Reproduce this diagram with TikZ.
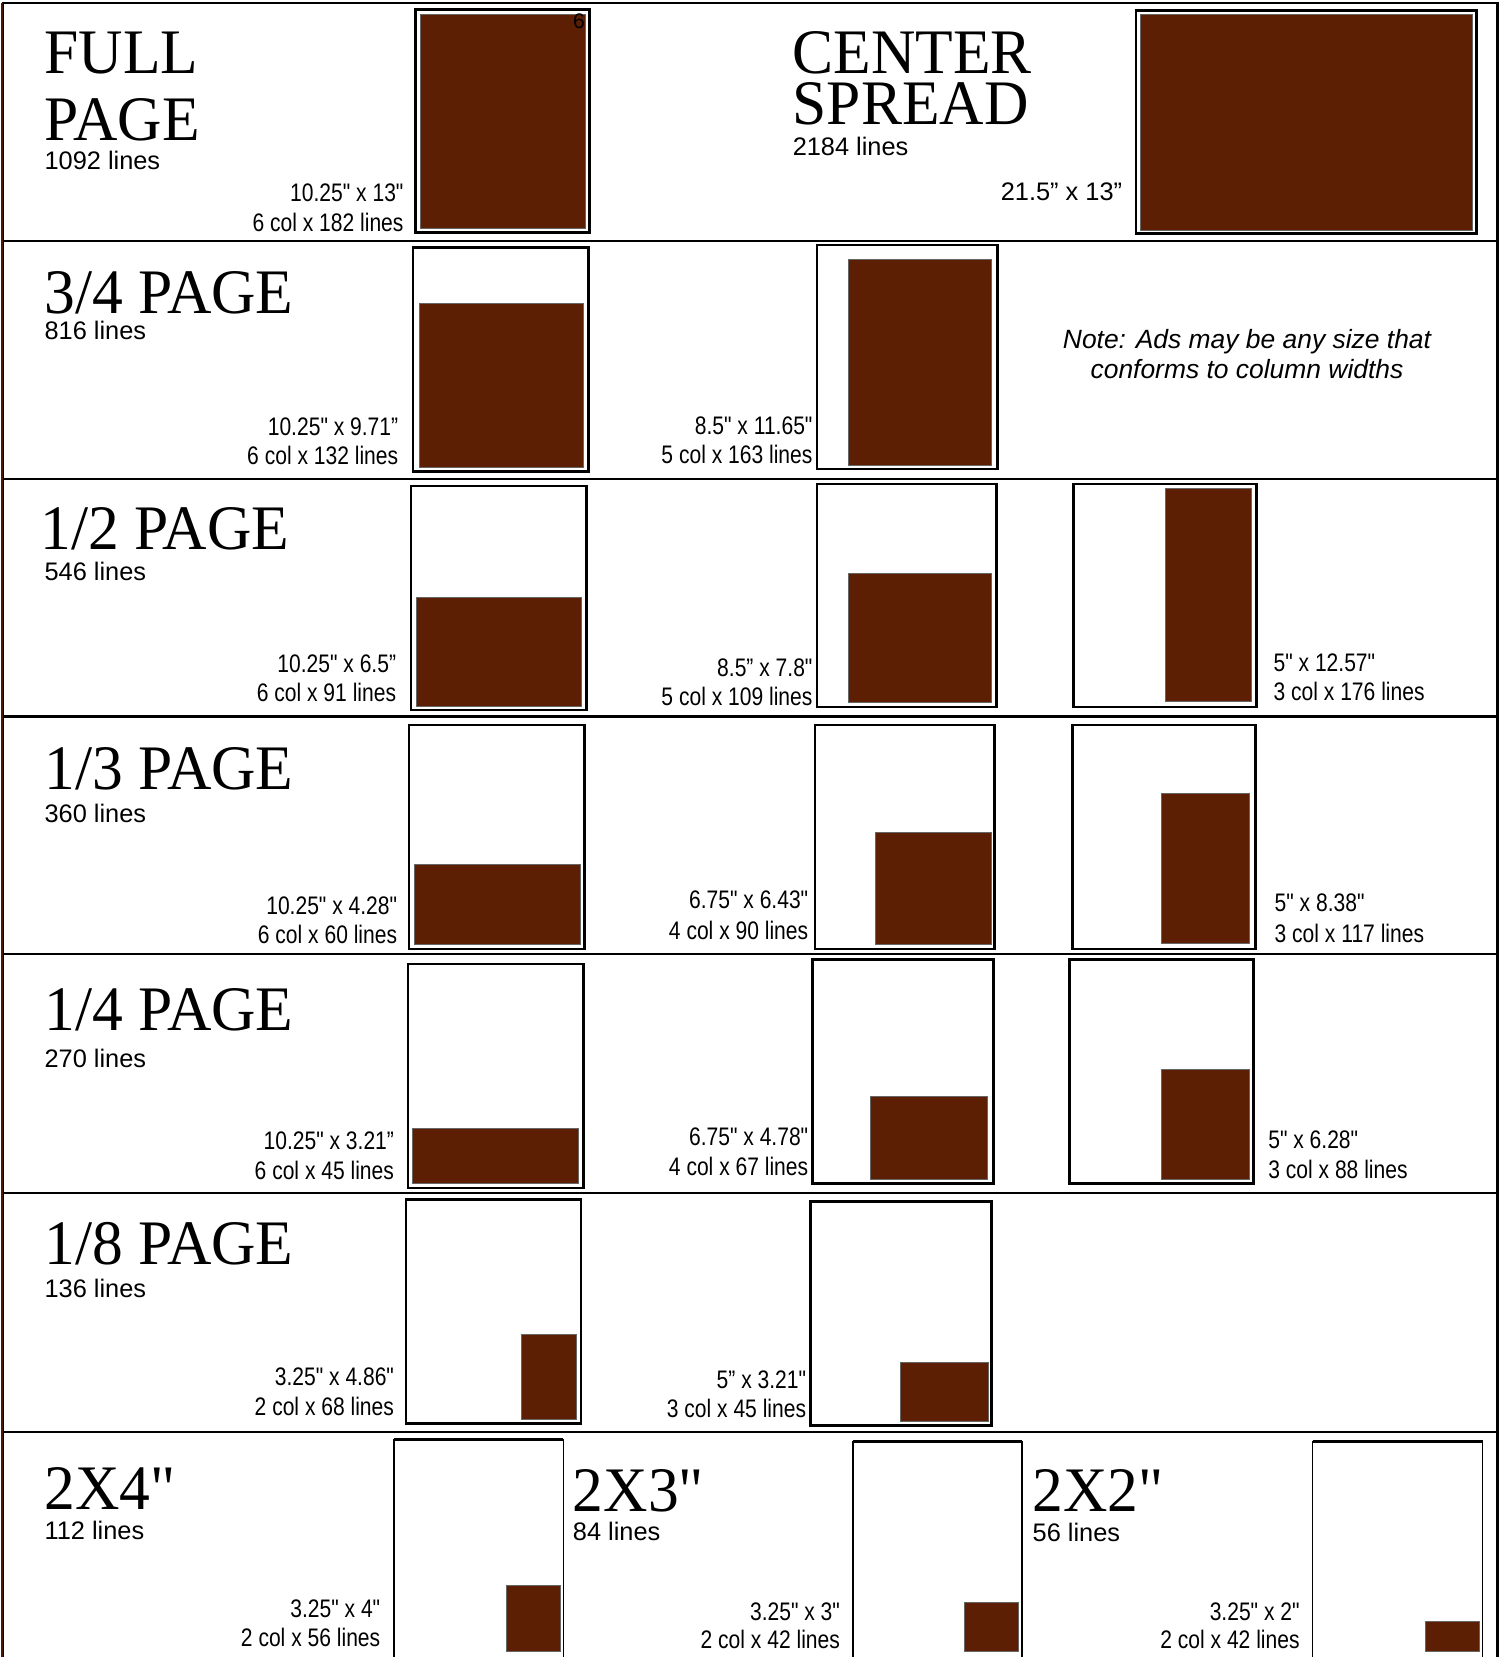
\documentclass[tikz,border=0pt]{standalone}
\usepackage{fontspec}
\setmainfont{Liberation Sans}
\newfontfamily\titlefont[FakeStretch=0.97]{Liberation Serif}
\newfontfamily\dimfont[FakeStretch=0.83]{Liberation Sans}
\usetikzlibrary{positioning}
\definecolor{adbrown}{RGB}{92,31,4}

\begin{document}
\begin{tikzpicture}[x=1pt, y=-1pt,
  title/.style={anchor=base west, inner sep=0pt, text depth=0pt, font=\titlefont\fontsize{60}{60}\selectfont},
  lines/.style={anchor=base west, inner sep=0pt, text height=17pt, font=\fontsize{24}{24}\selectfont},
  dimr/.style={anchor=base east, inner sep=0pt, font=\dimfont\fontsize{24}{24}\selectfont},
  diml/.style={anchor=base west, inner sep=0pt, font=\dimfont\fontsize{24}{24}\selectfont},
  pagebox/.style={draw=black, line width=2.4pt, fill=white},
  thinbox/.style={draw=black, line width=1.3pt, fill=white},
  ad/.style={fill=adbrown, draw=black!60, line width=0.7pt},
  rule/.style={draw=black, line width=2pt},
]
\useasboundingbox (0,0) rectangle (1420,1568);

% frame and row rules
\draw[rule] (3,1568) -- (3,3) -- (1417,3) -- (1417,1568);
\draw[draw=adbrown!80!black, line width=2.5pt] (2,3) -- (2,1568);
\foreach \ry in {228,453,678,903,1129,1355}
  \draw[rule] (3,\ry) -- (1417,\ry);

% full page
\node[title] (fulla) at (42,70) {FULL};
\node[title] (fullb) at (42,133) {PAGE};
\node[lines] (fulln) at (42,160) {1092 lines};
\draw[pagebox] (393,9) rectangle (558,220);
\draw[ad] (398,14) rectangle (554,216);
\node[anchor=base, inner sep=0pt, font=\fontsize{20}{20}\selectfont] (fullsix) at (548,27) {6};
\node[dimr] (fulld) at (382,191) {10.25" x 13"};
\node[dimr] (fullc) at (382,219) {6 col x 182 lines};

% center spread
\node[title] (centera) at (750,70) {CENTER};
\node[title] (centerb) at (750,118) {SPREAD};
\node[lines] (centern) at (750,147) {2184 lines};
\node[anchor=base east, inner sep=0pt, font=\fontsize{24}{24}\selectfont] (centerd) at (1062,190) {21.5" x 13”};
\draw[pagebox] (1075,10) rectangle (1397,221);
\draw[ad] (1079,14) rectangle (1393,218);

% 3/4 page
\node[title] (threeq) at (42,297) {3/4 PAGE};
\node[lines] (threeqn) at (42,321) {816 lines};
\draw[pagebox] (391,234) rectangle (557,446);
\draw[ad] (397,287) rectangle (552,442);
\node[dimr] (threeqd) at (377,412) {10.25" x 9.71”};
\node[dimr] (threeqc) at (377,440) {6 col x 132 lines};
\draw[pagebox] (773,232) rectangle (944,444);
\draw[ad] (803,245) rectangle (938,440);
\node[dimr] (threeqdb) at (769,411) {8.5" x 11.65"};
\node[dimr] (threeqcb) at (769,439) {5 col x 163 lines};
\node[anchor=base, inner sep=0pt, font=\itshape\fontsize{25}{25}\selectfont] (notea) at (1180,330)
  {Note: Ads may be any size that};
\node[anchor=base, inner sep=0pt, font=\itshape\fontsize{25}{25}\selectfont] (noteb) at (1180,358)
  {conforms to column widths};

% 1/2 page
\node[title] (half) at (38,520) {1/2 PAGE};
\node[lines] (halfn) at (42,549) {546 lines};
\draw[pagebox] (389,460) rectangle (555,672);
\draw[ad] (394,565) rectangle (550,668);
\node[dimr] (halfd) at (375,636) {10.25" x 6.5”};
\node[dimr] (halfc) at (375,664) {6 col x 91 lines};
\draw[pagebox] (773,458) rectangle (943,669);
\draw[ad] (803,543) rectangle (938,665);
\node[dimr] (halfdb) at (769,640) {8.5” x 7.8"};
\node[dimr] (halfcb) at (769,668) {5 col x 109 lines};
\draw[pagebox] (1016,458) rectangle (1189,669);
\draw[ad] (1103,462) rectangle (1184,664);
\node[diml] (halfdc) at (1205,635) {5" x 12.57"};
\node[diml] (halfcc) at (1205,663) {3 col x 176 lines};

% 1/3 page
\node[title] (third) at (42,747) {1/3 PAGE};
\node[lines] (thirdn) at (42,778) {360 lines};
\draw[pagebox] (387,686) rectangle (553,898);
\draw[ad] (392,818) rectangle (549,894);
\node[dimr] (thirdd) at (376,865) {10.25" x 4.28"};
\node[dimr] (thirdc) at (376,893) {6 col x 60 lines};
\draw[pagebox] (771,686) rectangle (941,898);
\draw[ad] (828,788) rectangle (938,894);
\node[dimr] (thirddb) at (765,860) {6.75" x 6.43"};
\node[dimr] (thirdcb) at (765,889) {4 col x 90 lines};
\draw[pagebox] (1015,686) rectangle (1188,898);
\draw[ad] (1099,751) rectangle (1182,893);
\node[diml] (thirddc) at (1206,863) {5" x 8.38"};
\node[diml] (thirdcc) at (1206,892) {3 col x 117 lines};

% 1/4 page
\node[title] (quarter) at (42,975) {1/4 PAGE};
\node[lines] (quartern) at (42,1010) {270 lines};
\draw[pagebox] (386,912) rectangle (552,1124);
\draw[ad] (390,1068) rectangle (547,1120);
\node[dimr] (quarterd) at (373,1088) {10.25" x 3.21”};
\node[dimr] (quarterc) at (373,1116) {6 col x 45 lines};
\draw[pagebox] (769,908) rectangle (940,1120);
\draw[ad] (824,1037) rectangle (934,1116);
\node[dimr] (quarterdb) at (765,1084) {6.75" x 4.78"};
\node[dimr] (quartercb) at (765,1112) {4 col x 67 lines};
\draw[pagebox] (1012,908) rectangle (1186,1120);
\draw[ad] (1099,1012) rectangle (1182,1116);
\node[diml] (quarterdc) at (1200,1087) {5" x 6.28"};
\node[diml] (quartercc) at (1200,1115) {3 col x 88 lines};

% 1/8 page
\node[title] (eighth) at (42,1197) {1/8 PAGE};
\node[lines] (eighthn) at (42,1228) {136 lines};
\draw[pagebox] (384,1135) rectangle (550,1347);
\draw[ad] (493,1263) rectangle (545,1343);
\node[dimr] (eighthd) at (373,1311) {3.25" x 4.86"};
\node[dimr] (eighthc) at (373,1339) {2 col x 68 lines};
\draw[pagebox] (767,1137) rectangle (938,1349);
\draw[ad] (852,1289) rectangle (935,1345);
\node[dimr] (eighthdb) at (763,1314) {5” x 3.21"};
\node[dimr] (eighthcb) at (763,1341) {3 col x 45 lines};

% inch sizes
\node[title] (twofour) at (42,1428) {2X4"};
\node[lines] (twofourn) at (42,1457) {112 lines};
\draw[thinbox] (373,1570) -- (373,1362) -- (533,1362) -- (533,1570);
\draw[line width=3pt] (373,1362) -- (533,1362);
\draw[ad] (479,1500) rectangle (530,1563);
\node[dimr] (twofourd) at (360,1531) {3.25" x 4"};
\node[dimr] (twofourc) at (360,1558) {2 col x 56 lines};

\node[title] (twothree) at (542,1430) {2X3"};
\node[lines] (twothreen) at (542,1458) {84 lines};
\draw[thinbox] (807,1570) -- (807,1364) -- (967,1364) -- (967,1570);
\draw[line width=3pt] (807,1364) -- (967,1364);
\draw[ad] (913,1516) rectangle (964,1563);
\node[dimr] (twothreed) at (795,1533) {3.25" x 3"};
\node[dimr] (twothreec) at (795,1560) {2 col x 42 lines};

\node[title] (twotwo) at (977,1430) {2X2"};
\node[lines] (twotwon) at (977,1459) {56 lines};
\draw[thinbox] (1242,1570) -- (1242,1364) -- (1403,1364) -- (1403,1570);
\draw[line width=3pt] (1242,1364) -- (1403,1364);
\draw[ad] (1349,1534) rectangle (1400,1563);
\node[dimr] (twotwod) at (1230,1533) {3.25" x 2"};
\node[dimr] (twotwoc) at (1230,1560) {2 col x 42 lines};
\end{tikzpicture}
\end{document}
